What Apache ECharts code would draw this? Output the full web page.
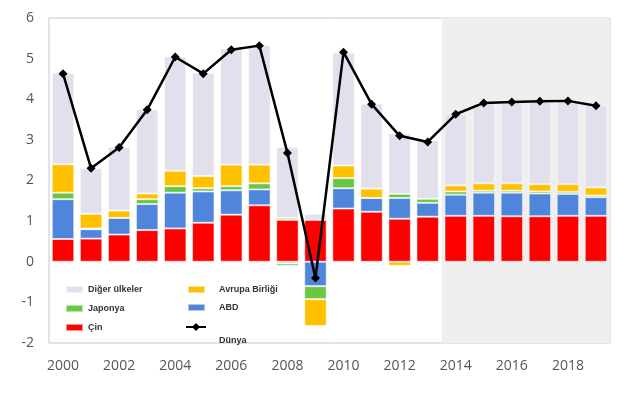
<!DOCTYPE html>
<html><head><meta charset="utf-8">
<script src="https://cdn.jsdelivr.net/npm/echarts@6/dist/echarts.min.js"></script>
<style>html,body{margin:0;padding:0;background:#fff}#c{width:638px;height:393px}</style>
</head><body><div id="c"></div>
<script>
const years = ['2000','2001','2002','2003','2004','2005','2006','2007','2008','2009','2010','2011','2012','2013','2014','2015','2016','2017','2018','2019'];
const cin     = [0.56,0.57,0.67,0.78,0.82,0.96,1.16,1.39,1.03,1.03,1.31,1.23,1.06,1.11,1.13,1.13,1.12,1.12,1.13,1.13];
const abd     = [0.98,0.23,0.41,0.64,0.88,0.77,0.60,0.39,-0.04,-0.60,0.50,0.34,0.51,0.34,0.52,0.57,0.58,0.56,0.54,0.46];
const japonya = [0.16,0.02,0.00,0.12,0.16,0.08,0.10,0.15,-0.06,-0.32,0.25,0.00,0.10,0.10,0.08,0.05,0.05,0.05,0.05,0.04];
const ab      = [0.70,0.36,0.18,0.14,0.38,0.30,0.53,0.46,0.05,-0.66,0.31,0.23,-0.10,-0.03,0.15,0.18,0.18,0.18,0.19,0.20];
const diger   = [2.25,1.12,1.56,2.07,2.81,2.54,2.86,2.94,1.75,0.15,2.78,2.09,1.49,1.44,1.76,1.98,2.01,2.05,2.05,2.02];
const dunya   = [4.63,2.30,2.81,3.74,5.04,4.63,5.22,5.32,2.68,-0.40,5.16,3.88,3.10,2.95,3.63,3.91,3.93,3.95,3.96,3.84];
const forecastFrom = '2014';
const yMin = -2, yMax = 6, yStep = 1;

const colors = {cin:'#ff0000', abd:'#4f86dc', japonya:'#6cc644', ab:'#ffc000', diger:'#e3e0ee'};
const fontAxis = {fontFamily:'Open Sans', fontSize:14, color:'#555'};
const fontLegend = {fontFamily:'Liberation Sans', fontSize:9, fontWeight:'bold', color:'#333'};

function barSeries(name, data, color){
  return {name, type:'bar', stack:'s', data, barCategoryGap:'20%',
    itemStyle:{color, borderColor:'rgba(255,255,255,0.55)', borderWidth:1}, z:2};
}
const fStart = years.indexOf(forecastFrom) - 0.5;
const fEnd = years.length - 0.5;

const chart = echarts.init(document.getElementById('c'));
chart.setOption({
  animation:false,
  grid:{left:49, right:28, top:18, bottom:50, show:true, borderColor:'#c8c8c8', borderWidth:1, backgroundColor:'transparent'},
  xAxis:[
    {type:'category', data:years, axisLine:{show:false}, axisTick:{show:false},
     axisLabel:Object.assign({interval:1, margin:16}, fontAxis)},
    {type:'value', min:-0.5, max:years.length-0.5, show:false}
  ],
  yAxis:{type:'value', min:yMin, max:yMax, interval:yStep, splitLine:{show:false},
    axisLine:{show:false}, axisTick:{show:false}, axisLabel:Object.assign({margin:15}, fontAxis)},
  legend:[
    {data:['Diğer ülkeler','Japonya','Çin'], orient:'vertical', left:65, top:285, padding:0, itemWidth:17, itemHeight:7, itemGap:10,
     textStyle:fontLegend, icon:'rect'},
    {data:['Avrupa Birliği','ABD'], orient:'vertical', left:187, top:285, padding:0, itemWidth:17, itemHeight:7, itemGap:9,
     textStyle:Object.assign({padding:[0,0,0,9]}, fontLegend), icon:'rect'},
    {data:['Dünya'], orient:'vertical', left:185, top:306, padding:0, itemWidth:20, itemHeight:10,
     formatter:function(n){return '\n\n'+n;}, textStyle:Object.assign({padding:[0,0,0,8], lineHeight:14}, fontLegend)}
  ],
  series:[
    {type:'line', xAxisIndex:1, data:[], z:0, silent:true,
     markArea:{silent:true, itemStyle:{color:'#efefef'}, data:[[{xAxis:fStart},{xAxis:fEnd}]]}},
    barSeries('Çin', cin, colors.cin),
    barSeries('ABD', abd, colors.abd),
    barSeries('Japonya', japonya, colors.japonya),
    barSeries('Avrupa Birliği', ab, colors.ab),
    barSeries('Diğer ülkeler', diger, colors.diger),
    {name:'Dünya', type:'line', data:dunya, z:5, symbol:'diamond', symbolSize:9,
     lineStyle:{color:'#000', width:2.5}, itemStyle:{color:'#000'}}
  ]
});
</script></body></html>
